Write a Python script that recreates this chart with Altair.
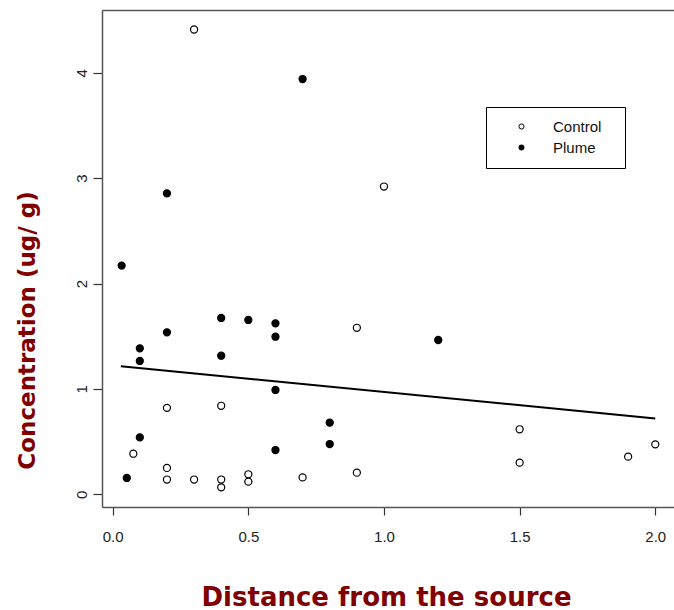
import altair as alt
import pandas as pd

# ---- data ----
control_x = [0.3, 1.0, 0.9, 0.2, 0.4, 0.076, 0.2, 0.2, 0.3, 0.4, 0.4, 0.5, 0.5, 0.7, 0.9, 1.5, 1.5, 1.9, 2.0]
control_y = [4.41, 2.92, 1.58, 0.82, 0.84, 0.385, 0.25, 0.14, 0.14, 0.14, 0.066, 0.19, 0.12, 0.16, 0.205, 0.617, 0.30, 0.357, 0.474]

plume_x = [0.033, 0.1, 0.1, 0.2, 0.4, 0.4, 0.5, 0.6, 0.6, 0.6, 0.6, 0.8, 0.8, 0.1, 0.052, 0.2, 0.7, 1.2]
plume_y = [2.17, 1.385, 1.265, 1.537, 1.673, 1.315, 1.654, 1.622, 1.495, 0.99, 0.42, 0.68, 0.477, 0.54, 0.155, 2.855, 3.94, 1.464]

fit_x = [0.03, 2.0]
fit_y = [1.215, 0.72]

x_ticks = [0.0, 0.5, 1.0, 1.5, 2.0]
y_ticks = [0, 1, 2, 3, 4]
groups = ["Control", "Plume"]

pts = pd.DataFrame({
    "x": control_x + plume_x,
    "y": control_y + plume_y,
    "group": ["Control"] * len(control_x) + ["Plume"] * len(plume_x),
})
fit = pd.DataFrame({"x": fit_x, "y": fit_y})

TITLE_FONT = "DejaVu Sans"
LABEL_FONT = "Liberation Sans Narrow, Liberation Sans, Arial"
DARK_RED = "#800000"

xscale = alt.Scale(domain=[-0.0394, 2.069], nice=False, zero=False)
yscale = alt.Scale(domain=[-0.1205, 4.595], nice=False, zero=False)

points = alt.Chart(pts).mark_point(
    shape="circle", size=50, stroke="black", strokeWidth=1.2, opacity=1
).encode(
    x=alt.X("x:Q", scale=xscale, axis=alt.Axis(
        values=x_ticks, format=".1f", grid=False,
        title="Distance from the source",
        titleFont=TITLE_FONT, titleFontSize=26, titleFontWeight="bold",
        titleColor=DARK_RED, titleX=284, titleY=98, titleBaseline="alphabetic",
        labelFont=LABEL_FONT, labelFontSize=15, labelColor="#222",
        labelBaseline="alphabetic", labelPadding=26,
        tickSize=8, tickColor="#333", tickWidth=1.2,
        domainColor="#555", domainWidth=1.5,
    )),
    y=alt.Y("y:Q", scale=yscale, axis=alt.Axis(
        values=y_ticks, format="d", grid=False,
        title="Concentration (ug/ g)",
        titleFont=TITLE_FONT, titleFontSize=23, titleFontWeight="bold",
        titleColor=DARK_RED, titleX=-68, titleY=320, titleAngle=270,
        titleAlign="center", titleBaseline="alphabetic",
        labelFont=LABEL_FONT, labelFontSize=15, labelColor="#222",
        labelAngle=270, labelAlign="center", labelBaseline="alphabetic",
        labelPadding=7,
        tickSize=9, tickColor="#333", tickWidth=1.2,
        domainColor="#555", domainWidth=1.5,
    )),
    fill=alt.Fill("group:N", scale=alt.Scale(domain=groups, range=["white", "black"]),
                  legend=alt.Legend(
                      title="\u00a0", titleOrient="right", titleFontSize=1,
                      titlePadding=12,
                      orient="none", legendX=384, legendY=97,
                      strokeColor="black", padding=12,
                      symbolType="circle", symbolSize=26,
                      symbolStrokeColor="black", symbolStrokeWidth=1,
                      symbolOffset=16, labelOffset=24,
                      labelFont=LABEL_FONT, labelFontSize=15, labelColor="#111",
                      rowPadding=5,
                  )),
)

line = alt.Chart(fit).mark_line(color="black", strokeWidth=2).encode(
    x=alt.X("x:Q", scale=xscale, axis=alt.Axis(
        orient="top", labels=False, ticks=False, title=None, grid=False,
        domainColor="#555", domainWidth=1.5)),
    y=alt.Y("y:Q", scale=yscale),
)

chart = alt.layer(points, line).resolve_axis(x="independent").properties(
    width=572, height=497,
    padding={"left": 102, "top": 10, "right": 0, "bottom": 103},
    autosize="none",
    background="white",
).configure_view(stroke=None)

chart.save("out.html", embed_options={"renderer": "svg", "actions": False})
